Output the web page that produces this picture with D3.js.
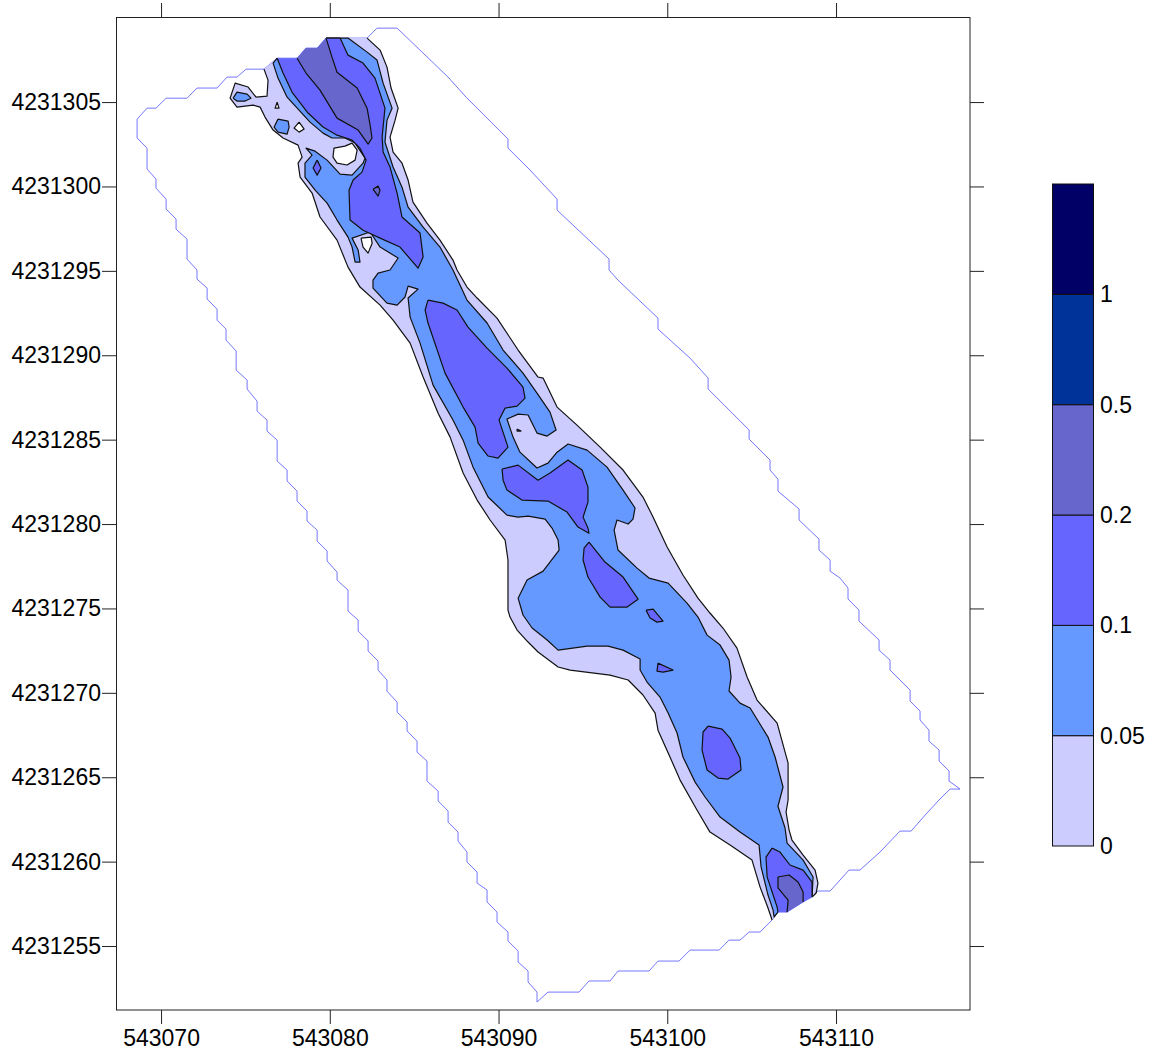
<!DOCTYPE html>
<html><head><meta charset="utf-8">
<script src="https://cdn.jsdelivr.net/npm/d3@7/dist/d3.min.js"></script>
<style>html,body{margin:0;padding:0;background:#fff}svg{display:block}text{font-family:"Liberation Sans",Arial,sans-serif;font-size:23px;fill:#000}</style>
</head><body><svg id="c" width="1155" height="1057"></svg>
<script>
// Local survey origin: all outlines are metres east / north of it.
const originE = 543000, originN = 4231000;
const xExtent = [543067.33, 543117.94];
const yExtent = [4231251.21, 4231310.04];
const xTickValues = [543070,543080,543090,543100,543110];
const yTickValues = [4231255,4231260,4231265,4231270,4231275,4231280,4231285,4231290,4231295,4231300,4231305];
const legendLabels = ["0","0.05","0.1","0.2","0.5","1"];
const bandColors = ["#ccccff","#6699ff","#6666ff","#6666cc","#003399","#000066"];

const domainOutline = [[68.58,303.99],[69.17,304.64],[69.70,304.64],[70.30,305.23],[71.54,305.23],[72.13,305.83],[73.32,305.83],[73.91,306.48],[74.50,306.48],[75.04,306.95],[76.10,306.95],[76.88,307.60],[78.06,307.60],[78.59,308.20],[79.25,308.20],[79.78,308.79],[82.21,308.79],[82.80,309.38],[83.99,309.38],[87.01,306.48],[88.08,305.29],[90.56,302.81],[90.56,302.27],[91.87,300.97],[93.47,299.25],[93.47,298.60],[96.55,295.70],[96.55,295.05],[97.08,294.45],[99.45,292.20],[99.45,291.55],[101.35,289.83],[102.42,288.65],[102.42,288.00],[104.85,285.57],[104.85,285.03],[106.09,283.79],[106.09,283.20],[106.56,282.66],[106.56,281.95],[107.81,280.89],[107.81,280.24],[108.99,279.11],[108.99,278.46],[109.65,277.87],[109.65,277.21],[110.24,276.80],[110.71,276.21],[110.71,275.56],[111.36,274.90],[111.36,274.25],[112.55,273.13],[112.55,272.53],[113.20,271.94],[113.20,271.35],[114.39,270.16],[114.39,269.51],[114.98,268.92],[114.98,268.39],[115.51,267.79],[115.51,267.14],[116.11,266.61],[116.11,265.96],[116.70,265.37],[116.70,264.77],[117.35,264.30],[116.76,264.30],[116.16,263.71],[115.39,262.88],[114.45,261.81],[113.79,261.81],[112.61,260.57],[111.42,259.50],[110.77,259.50],[109.65,258.26],[108.93,258.26],[108.58,257.90],[108.05,257.61],[107.10,257.01],[106.56,257.01],[106.21,256.54],[105.50,255.83],[104.85,255.83],[104.31,255.35],[103.66,255.35],[103.07,254.76],[101.35,254.76],[100.70,254.11],[99.45,254.11],[98.92,253.52],[97.08,253.52],[96.61,252.93],[95.36,252.93],[94.77,252.27],[92.93,252.27],[92.28,251.68],[92.28,252.27],[91.75,252.87],[91.75,253.52],[91.16,254.05],[91.16,254.70],[90.56,255.30],[90.56,255.83],[89.91,256.42],[89.91,257.01],[89.32,257.61],[89.32,258.32],[88.73,258.73],[88.73,259.38],[88.13,259.98],[88.13,260.57],[87.60,261.22],[87.60,261.75],[87.01,262.34],[87.01,263.00],[86.42,263.59],[86.42,264.18],[85.76,264.77],[85.76,265.96],[85.17,266.49],[85.17,267.14],[84.58,267.74],[84.58,268.27],[83.99,268.86],[83.99,269.45],[83.39,270.10],[83.39,270.76],[82.86,271.35],[82.86,271.88],[82.27,272.48],[82.27,273.07],[81.68,273.66],[81.68,274.31],[81.08,274.84],[81.08,276.09],[80.43,276.68],[80.43,277.15],[79.84,277.81],[79.84,278.40],[79.25,278.99],[79.25,279.64],[78.65,280.18],[78.65,280.77],[78.06,281.36],[78.06,281.95],[77.47,282.55],[77.47,283.20],[76.88,283.73],[76.88,284.97],[76.28,285.51],[76.28,286.16],[75.69,286.69],[75.69,287.28],[75.10,288.00],[75.10,288.53],[74.45,289.12],[74.45,290.25],[73.85,290.90],[73.85,291.55],[73.32,292.08],[73.32,292.73],[72.73,293.33],[72.73,293.98],[72.13,294.51],[72.13,295.05],[71.54,295.70],[71.54,296.88],[70.89,297.47],[70.89,298.07],[70.30,298.66],[70.30,299.25],[69.70,299.90],[69.70,300.44],[69.17,301.03],[69.17,302.27],[68.58,302.87]];

const bandZeroMain = [[82.21,308.79],[82.98,308.08],[83.39,307.07],[83.63,305.83],[84.05,304.64],[83.87,303.93],[83.57,302.92],[83.75,302.04],[84.28,301.38],[84.64,300.38],[84.93,299.07],[85.76,297.83],[86.53,296.82],[87.30,295.64],[87.54,295.05],[88.13,294.04],[88.73,293.39],[89.91,292.20],[91.16,290.31],[92.34,288.71],[92.64,288.65],[93.47,286.93],[94.65,285.86],[96.02,284.56],[97.38,283.20],[98.56,281.60],[99.10,280.53],[99.99,278.64],[100.93,276.98],[101.82,275.61],[102.53,274.73],[103.30,273.84],[104.13,272.65],[104.73,270.94],[105.32,269.57],[106.51,268.21],[107.16,265.84],[107.16,263.65],[107.04,262.94],[107.22,261.87],[107.39,261.28],[108.05,260.39],[108.76,259.50],[108.93,258.73],[108.82,258.14],[108.58,257.90],[108.05,257.61],[107.10,257.01],[106.56,257.01],[106.21,256.54],[105.97,257.25],[105.50,258.49],[105.02,260.09],[103.72,260.98],[102.53,261.75],[101.76,263.06],[100.76,264.83],[100.16,266.20],[99.45,267.79],[99.28,268.80],[98.56,269.87],[97.68,270.76],[96.61,271.05],[94.24,271.35],[93.53,271.53],[92.34,272.42],[91.75,273.01],[91.10,273.72],[90.68,274.49],[90.56,274.90],[90.56,277.87],[90.39,279.05],[89.50,280.24],[88.73,281.42],[87.90,283.02],[87.13,285.15],[86.42,286.57],[85.53,288.71],[84.76,290.72],[83.75,292.08],[82.98,292.97],[81.79,294.04],[81.08,295.22],[80.43,296.82],[79.42,298.19],[78.95,299.61],[78.24,300.55],[78.12,301.38],[78.36,301.74],[78.12,302.45],[77.23,302.87],[76.64,303.34],[76.16,304.11],[75.87,304.70],[75.45,304.82],[74.50,304.70],[74.09,305.23],[74.39,306.12],[75.16,305.89],[75.63,305.29],[76.28,305.35],[76.34,306.30],[76.10,306.95],[76.88,307.60],[78.06,307.60],[78.59,308.20],[79.25,308.20],[79.78,308.79]];

const bandFiveMain = [[81.08,308.79],[82.21,307.96],[82.80,307.49],[83.16,306.12],[83.69,304.64],[83.39,303.93],[83.27,302.63],[83.75,301.15],[84.28,299.96],[84.64,298.78],[85.53,297.59],[86.53,296.41],[87.30,295.05],[88.13,293.27],[89.32,291.91],[90.27,290.31],[91.45,288.94],[92.28,287.76],[93.05,286.63],[93.41,285.57],[92.88,285.21],[92.28,285.39],[91.75,286.46],[91.16,286.51],[90.50,286.22],[90.86,285.15],[91.27,284.26],[92.28,283.32],[92.93,283.61],[93.47,284.26],[94.12,284.74],[95.25,284.38],[96.43,283.37],[97.38,282.01],[98.09,280.95],[97.97,280.29],[97.68,280.00],[97.02,280.24],[96.85,279.64],[97.08,278.46],[98.21,277.39],[98.92,276.80],[100.05,276.50],[101.17,275.32],[101.82,274.49],[102.36,273.42],[103.13,272.83],[103.66,271.94],[103.78,270.94],[103.66,270.11],[104.31,269.39],[104.91,269.10],[105.97,267.38],[106.39,266.20],[106.86,264.42],[106.56,263.28],[106.98,261.99],[107.10,261.10],[108.05,260.09],[108.64,259.09],[108.58,257.90],[108.05,257.61],[107.10,257.01],[106.56,257.01],[106.33,256.72],[106.27,257.13],[105.97,258.02],[105.56,259.68],[105.44,260.98],[104.31,261.75],[103.13,262.64],[102.24,263.83],[101.65,264.71],[100.93,266.20],[100.58,267.62],[100.05,268.80],[99.57,269.75],[98.80,270.64],[98.39,271.35],[98.39,272.00],[97.38,272.53],[96.49,272.77],[95.25,272.77],[93.53,272.53],[92.88,273.13],[91.99,273.84],[91.45,274.61],[91.16,275.61],[91.69,276.68],[92.64,277.21],[93.59,278.46],[93.53,279.05],[93.17,279.76],[92.76,280.29],[91.75,280.47],[91.16,280.41],[90.50,280.53],[89.38,281.60],[88.49,283.37],[87.90,284.97],[87.30,286.16],[86.12,288.23],[85.35,290.72],[84.76,292.26],[84.64,293.39],[85.23,293.92],[84.64,294.10],[84.46,293.45],[83.99,292.97],[83.39,293.09],[82.56,293.98],[82.56,294.45],[82.86,294.87],[83.57,295.05],[84.05,295.76],[82.98,296.41],[82.39,297.30],[81.32,296.94],[81.68,296.23],[81.79,295.52],[81.50,295.52],[81.32,296.41],[81.08,297.00],[80.43,298.01],[79.84,299.01],[79.13,299.78],[78.53,300.55],[78.53,301.38],[78.95,301.86],[78.59,302.27],[79.13,302.09],[79.84,301.56],[80.61,300.73],[81.32,300.67],[81.97,301.38],[82.09,301.68],[81.50,302.57],[80.90,302.87],[80.13,302.87],[79.60,303.16],[78.83,303.81],[77.47,305.29],[76.93,306.42],[76.64,307.31],[76.88,307.60],[78.06,307.60],[78.59,308.20],[79.25,308.20],[79.78,308.79]];
const bandFiveIslandA = [[74.27,305.23],[74.50,305.59],[75.10,305.47],[75.33,305.23],[74.98,305.06],[74.50,305.06]];
const bandFiveIslandB = [[76.93,303.99],[77.53,303.87],[77.59,303.52],[77.47,303.10],[76.93,303.22],[76.70,303.52]];

const emptyTriangle = [[76.88,305.00],[76.99,304.64],[76.76,304.64]];
const emptyDiamond = [[78.18,303.81],[78.48,303.40],[78.18,303.22],[77.88,303.46]];
const emptyPool = [[81.32,302.57],[81.62,302.15],[81.50,301.56],[81.02,301.27],[80.43,301.38],[80.19,301.74],[80.25,302.27],[80.90,302.39]];
const emptyNotch = [[81.85,296.94],[82.45,297.00],[82.51,296.64],[82.27,296.05],[81.97,296.41]];

const bandTenTop = [[80.61,308.79],[81.08,307.78],[81.97,307.31],[82.68,306.42],[83.27,304.64],[83.10,302.92],[83.16,302.04],[83.57,301.15],[83.99,299.61],[84.28,298.19],[85.35,297.24],[85.53,295.82],[85.23,295.16],[84.16,296.41],[82.98,296.94],[81.97,297.41],[81.20,298.01],[81.14,299.78],[81.38,300.38],[81.91,300.85],[82.15,301.56],[81.79,302.27],[81.32,302.75],[80.43,303.04],[79.60,303.52],[78.71,304.35],[77.76,305.59],[77.23,306.72],[76.88,307.60],[78.06,307.60],[78.59,308.20],[79.25,308.20],[79.78,308.79]];
const bandTenSmall = [[79.25,301.56],[79.48,301.09],[79.25,300.67],[79.01,301.09]];
const bandTenLong = [[85.82,293.27],[86.71,293.09],[87.54,292.68],[88.19,291.67],[89.32,290.42],[90.50,289.24],[91.45,288.11],[91.57,287.46],[91.10,286.99],[90.39,286.87],[90.03,286.16],[90.56,284.56],[89.97,283.91],[89.38,284.03],[88.79,284.80],[88.61,285.74],[87.90,286.93],[86.83,288.94],[85.82,291.91],[85.65,292.68]];
const bandTenSpeck = [[91.10,285.63],[91.33,285.51],[91.10,285.51]];
const bandTenHeart = [[90.21,283.26],[91.16,283.49],[92.34,282.60],[93.05,283.02],[94.12,283.79],[94.95,283.20],[95.30,282.19],[95.30,281.30],[95.01,280.41],[95.30,279.76],[95.36,279.46],[94.71,279.82],[94.06,280.71],[92.93,281.36],[91.39,281.42],[90.50,282.01],[90.27,282.60]];
const bandTenMid = [[95.36,278.93],[96.31,277.75],[97.38,276.86],[98.27,275.55],[97.62,275.08],[96.61,275.08],[96.02,275.67],[95.30,276.86],[95.01,277.87],[95.07,278.58]];
const bandTenSliver = [[98.74,274.90],[99.16,274.96],[99.75,274.25],[99.39,274.19],[98.98,274.43]];
const bandTenWedge = [[99.45,271.76],[100.34,271.35],[99.75,271.23],[99.39,271.29]];
const bandTenOval = [[102.42,268.03],[103.25,267.85],[103.72,267.32],[104.31,266.14],[104.37,265.43],[103.60,264.89],[103.01,264.95],[102.36,265.43],[102.06,266.61],[102.12,267.68]];
const bandTenFoot = [[106.21,260.80],[106.68,260.57],[107.27,259.80],[108.05,259.50],[108.58,258.79],[108.58,257.90],[108.05,257.61],[107.10,257.01],[106.56,257.01],[106.51,257.31],[105.92,259.08],[105.85,260.27]];

const bandTwentyTop = [[79.78,308.79],[80.13,307.66],[80.43,306.77],[81.62,305.83],[82.21,304.64],[82.39,303.63],[82.50,302.87],[82.27,302.51],[81.68,303.34],[80.43,304.05],[79.42,305.71],[78.59,306.72],[78.06,307.60],[78.59,308.20],[79.25,308.20]];
const bandTwentySmall = [[82.56,299.84],[82.86,300.02],[82.98,299.78],[82.86,299.43]];
const bandTwentyFoot = [[106.56,259.09],[107.22,259.21],[107.75,258.79],[108.05,258.20],[108.05,257.61],[107.10,257.01],[107.16,257.72],[106.56,258.44]];

const x = d3.scaleLinear().domain(xExtent).range([116,970]);
const y = d3.scaleLinear().domain(yExtent).range([1010,17]);
const svg = d3.select("#c");
const lineGen = d3.line().x(d=>x(originE+d[0])).y(d=>y(originN+d[1]));
const onOutline = new Set(domainOutline.map(String));

// Domain outline
svg.append("path").attr("d",lineGen(domainOutline)+"Z").attr("fill","none").attr("stroke","#6666ff").attr("stroke-width",0.9);

function drawPolygon(points, fill){
  svg.append("path").attr("d",lineGen(points)+"Z").attr("fill",fill).attr("stroke","none");
  // stroke only the contour edges: edges lying on the domain outline stay unstroked
  const n = points.length; let run = [];
  const runs = [];
  for(let i=0;i<n;i++){
    const a = points[i], b = points[(i+1)%n];
    if(onOutline.has(String(a)) && onOutline.has(String(b))){
      if(run.length){runs.push(run);run=[];}
    } else {
      if(!run.length) run.push(a);
      run.push(b);
    }
  }
  if(run.length) runs.push(run);
  runs.forEach(r=>svg.append("path").attr("d",lineGen(r)).attr("fill","none").attr("stroke","#111").attr("stroke-width",1.2).attr("stroke-linejoin","round"));
}
[
 [bandZeroMain,bandColors[0]],
 [emptyTriangle,"#fff"],[emptyDiamond,"#fff"],[emptyPool,"#fff"],[emptyNotch,"#fff"],
 [bandFiveMain,bandColors[1]],[bandFiveIslandA,bandColors[1]],[bandFiveIslandB,bandColors[1]],
 [bandTenTop,bandColors[2]],[bandTenSmall,bandColors[2]],[bandTenLong,bandColors[2]],[bandTenSpeck,bandColors[2]],
 [bandTenHeart,bandColors[2]],[bandTenMid,bandColors[2]],[bandTenSliver,bandColors[2]],[bandTenWedge,bandColors[2]],
 [bandTenOval,bandColors[2]],[bandTenFoot,bandColors[2]],
 [bandTwentyTop,bandColors[3]],[bandTwentySmall,bandColors[3]],[bandTwentyFoot,bandColors[3]]
].forEach(p=>drawPolygon(p[0],p[1]));

// Frame and axes
svg.append("rect").attr("x",116.5).attr("y",17.5).attr("width",853.5).attr("height",992.5).attr("fill","none").attr("stroke","#222").attr("stroke-width",1);
const fmt = d3.format("d");
function axis(gen, tx, ty, padding){
  const labelled = padding !== null;
  const g = svg.append("g").attr("transform",`translate(${tx},${ty})`)
    .call(gen.tickSizeInner(14).tickSizeOuter(0).tickPadding(labelled?padding:0).tickFormat(labelled?fmt:()=>""));
  g.select(".domain").remove();
  g.selectAll(".tick line").attr("stroke","#222");
  g.selectAll(".tick text").attr("fill","#000").style("font-size","23px").style("font-family","'Liberation Sans',Arial,sans-serif");
  return g;
}
axis(d3.axisBottom(x).tickValues(xTickValues),0,1010,6);
axis(d3.axisTop(x).tickValues(xTickValues),0,17,null);
axis(d3.axisLeft(y).tickValues(yTickValues),116,0,1);
axis(d3.axisRight(y).tickValues(yTickValues),970,0,null);

// Colour legend
const legendY = d3.scaleLinear().domain([0,bandColors.length]).range([846,184]);
svg.append("g").selectAll("rect").data(bandColors).join("rect")
  .attr("x",1052.5).attr("width",41)
  .attr("y",(d,i)=>legendY(i+1)).attr("height",(d,i)=>legendY(i)-legendY(i+1))
  .attr("fill",d=>d).attr("stroke","#111").attr("stroke-width",1);
svg.append("g").selectAll("text").data(legendLabels).join("text")
  .attr("x",1100).attr("y",(d,i)=>legendY(i)+8).text(d=>d);
</script></body></html>
